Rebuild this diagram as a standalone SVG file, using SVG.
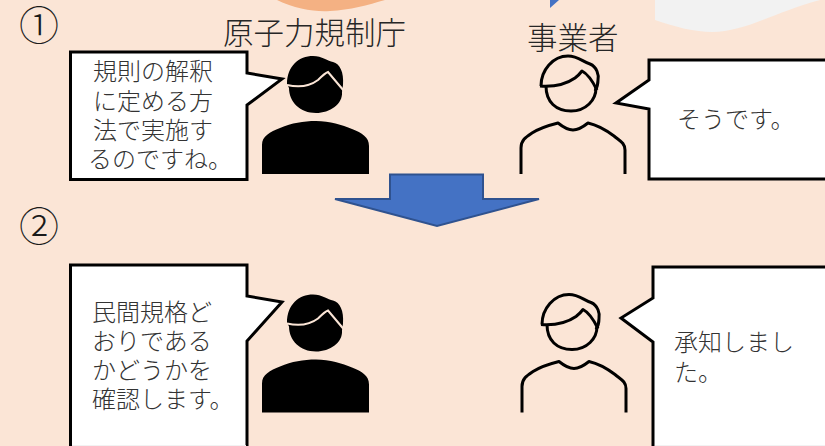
<svg xmlns="http://www.w3.org/2000/svg" width="825" height="446" viewBox="0 0 825 446">
<style>
text{font-family:"Noto Sans CJK JP","Noto Sans CJK SC",sans-serif;font-weight:300;fill:#333;font-size:24px}
.lbl{font-size:30.500px;fill:#262626}
.num{font-size:40px;fill:#1a1a1a}
.b{fill:#fff;stroke:#000;stroke-width:3;stroke-linejoin:miter}
.o{fill:none;stroke:#000;stroke-width:3;stroke-linecap:butt;stroke-linejoin:round}
</style>
<defs>
<g id="dark">
<path d="M287,84C287,66 299,56 313,56C322,56 328,61 333,62C340,64 344,72 343,85L342,92C343,104 330,113 316,113C300,113 289,102 289,88Z"/>
<path d="M287,85C300,88 310,86 318,80C322,76 325,73 328,72L344,91" fill="none" stroke="#FBE5D6" stroke-width="2"/>
<path d="M262,174L262,145C262,136 270,132 280,128C292,123 303,121 316,121C330,121 342,125 352,129C362,133 369,137 369,146L369,174Z"/>
</g>
<g id="line">
<path class="o" d="M541,86C541,70 553,56 568,56C578,56 583,62 590,64C597,67 599,75 598,80C598,85 597,88 595,91"/>
<path class="o" d="M540,86C555,87 565,85 575,78C579,75 582,71 582,71C588,74 593,82 597,90"/>
<path class="o" d="M546,86C546,102 556,111 571,111C586,111 596,100 596,88"/>
<path class="o" d="M521,174L521,148C521,140 526,137 532,133C540,128 550,125 558,123C563,127 568,130 573,130C578,130 583,127 588,123C597,125 606,130 614,136C620,141 625,143 625,150L625,174"/>
</g>
</defs>
<rect width="825" height="446" fill="#FBE5D6"/>
<g id="background-shapes">
<path d="M277,0C295,9 315,12 330,11C350,10 368,5 385,0Z" fill="#F4B183"/>
<path d="M655,0L655,20C675,27 695,32 712,32C745,32 775,12 820,0Z" fill="#F2F2F2"/>
<path d="M550,0L550,8L559,0Z" fill="#4472C4"/>
</g>
<g id="connectors">
<path id="down-arrow" d="M390,174.500H483V199H539L437,226L335,199H390Z" fill="#4472C4" stroke="#2F528F" stroke-width="2"/>
</g>
<g id="step-1"><text class="num" x="19" y="40">①</text></g>
<g id="step-2"><text class="num" x="19" y="241">②</text></g>
<g id="label-regulator"><text class="lbl" x="223" y="44">原子力規制庁</text></g>
<g id="label-operator"><text class="lbl" x="527" y="49">事業者</text></g>
<g id="regulator-1"><use href="#dark"/></g>
<g id="operator-1"><use href="#line"/></g>
<g id="regulator-2"><use href="#dark" y="238.500"/></g>
<g id="operator-2"><use href="#line" x="1" y="238.500"/></g>
<g id="bubble-1">
<path class="b" d="M70.500,52H247V73L282,79L247,105V179.500H70.500Z"/>
<text x="93" y="80">規則の解釈</text>
<text x="93" y="110">に定める方</text>
<text x="93" y="139">法で実施す</text>
<text x="88" y="168">るのですね。</text>
</g>
<g id="bubble-2">
<path class="b" d="M828,60H649V80L616,103L649,109V179H828Z"/>
<text x="677" y="128">そうです。</text>
</g>
<g id="bubble-3">
<path class="b" d="M70.500,265H247V296L282,302L247,341V450H70.500Z"/>
<text x="92" y="321">民間規格ど</text>
<text x="92" y="350">おりである</text>
<text x="92" y="379">かどうかを</text>
<text x="92" y="408">確認します。</text>
</g>
<g id="bubble-4">
<path class="b" d="M828,267H653V298L621,318L653,342V450H828Z"/>
<text x="674" y="351">承知しまし</text>
<text x="674" y="381">た。</text>
</g>
<rect x="72" y="445" width="174" height="1" fill="#F2F2F2"/>
<rect x="655" y="445" width="170" height="1" fill="#F2F2F2"/>
</svg>
